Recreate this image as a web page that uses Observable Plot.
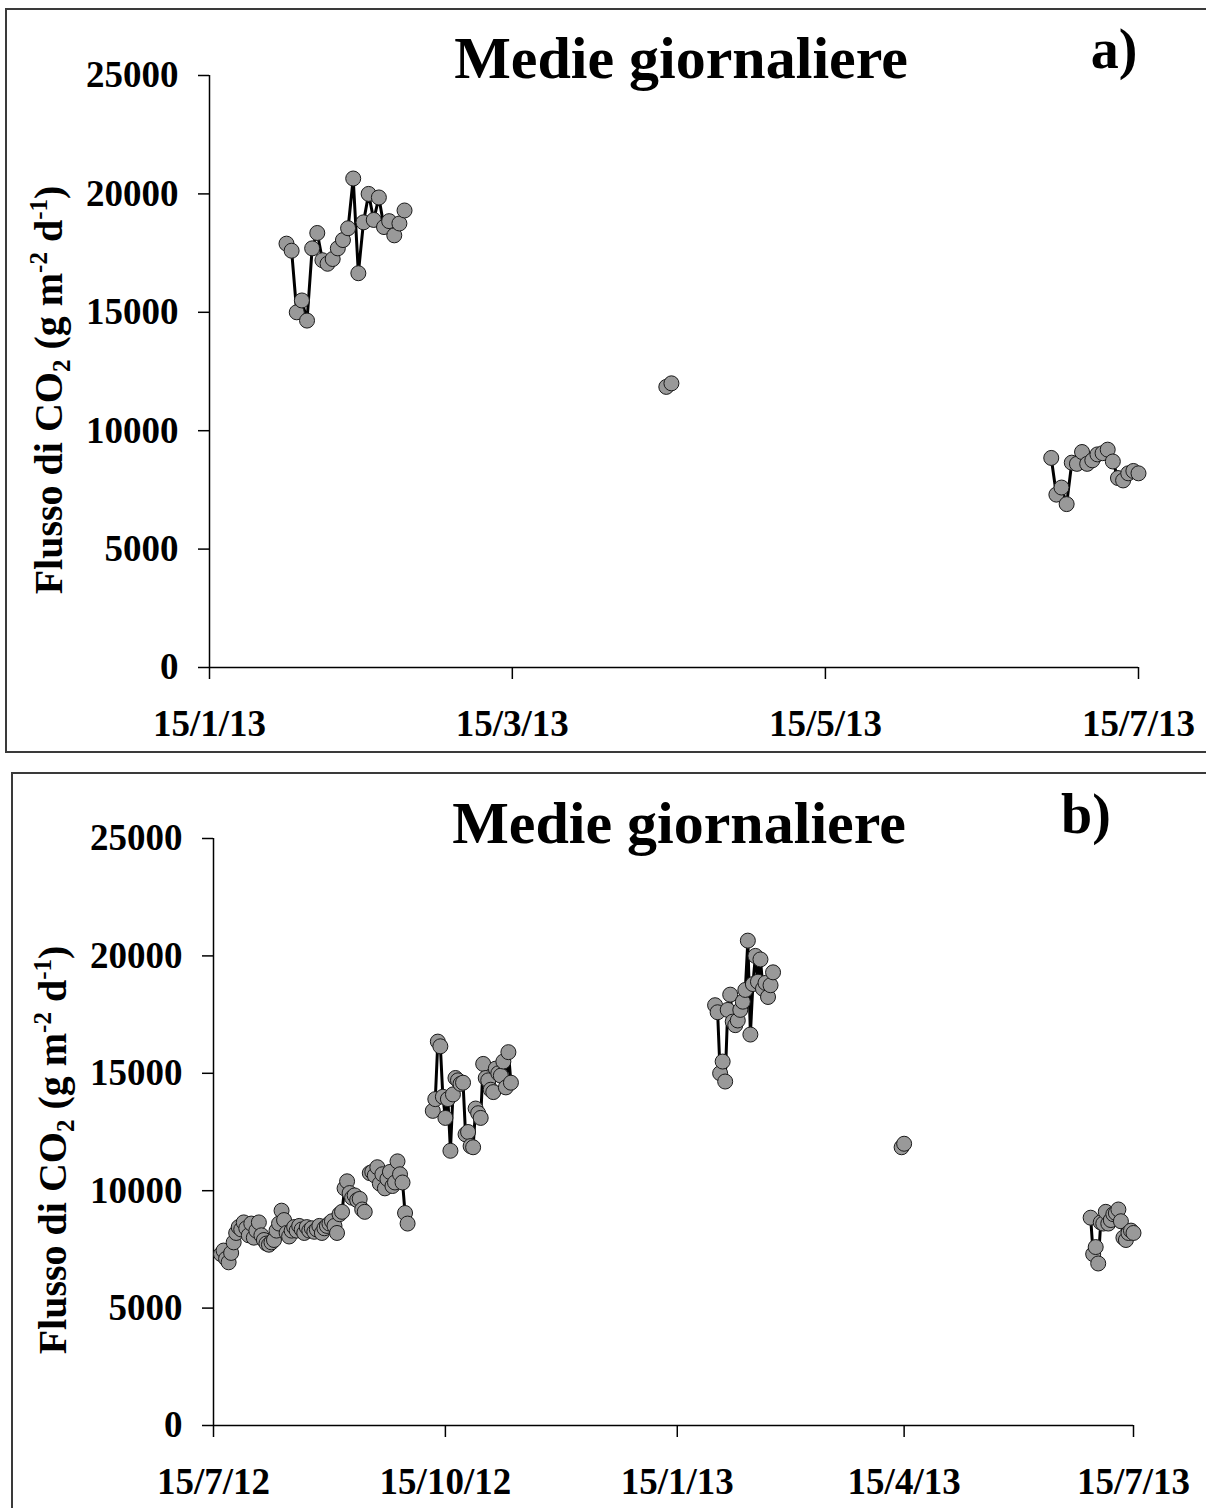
<!DOCTYPE html>
<html><head><meta charset="utf-8">
<script src="https://cdn.jsdelivr.net/npm/d3@7"></script>
<script src="https://cdn.jsdelivr.net/npm/@observablehq/plot@0.6"></script>
<style>
body{margin:0;background:#fff;width:1206px;height:1508px;position:relative;overflow:hidden;font-family:"Liberation Serif","Times New Roman",serif;}
.panel{position:absolute;left:0;}
.frame{position:absolute;border:2px solid #3a3a3a;box-sizing:border-box;pointer-events:none;}
</style></head><body>
<div id="pa" class="panel" style="top:0"></div>
<div id="pb" class="panel" style="top:760px"></div>
<div class="frame" style="left:5px;top:8px;width:1220px;height:745px"></div>
<div class="frame" style="left:11px;top:772px;width:1220px;height:760px"></div>
<script>
// ---- data (daily means, g m-2 d-1) ----
const julSepStart = "2012-07-18";
const julSepValues = [7300,7450,7100,6950,7350,7800,8200,8450,8350,8650,8400,8100,8600,8000,8300,8650,8100,7900,7750,7700,7800,7900,8300,8600,9150,8750,8200,8050,8300,8450,8300,8500,8350,8200,8450,8300,8400,8250,8350,8500,8200,8400,8500,8600,8700,8500,8200,9000,9100,10100,10400,9900,9700,9800,9600,9650,9200,9100];
const sepStart = "2012-09-15";
const sepValues = [10750,10800,10650,11000,10300,10700,10100,10500,10800,10200,10350,11250,10700,10350,9050,8600];
const octNovStart = "2012-10-10";
const octNovValues = [13400,13900,16350,16150,14000,13100,13900,11700,14100,14800,14700,14550,14600,12400,12500,11900,11850,13500,13300,13100,15400,14800,14700,14300,14200,15200,15000,14900,15500,14400,15900,14600];
const febStart = "2013-01-30";
const febValues = [17900,17600,15000,15500,14650,17700,18350,17200,17050,17250,17700,18050,18550,20650,16650,18800,20000,18900,19850,18600,18850,18250,18750,19300];
const aprStart = "2013-04-14";
const aprValues = [11850,12000];
const julStart = "2013-06-28";
const julValues = [8850,7300,7600,6900,8650,8600,9100,8600,8750,9000,9050,9200,8700,8000,7900,8200,8300,8200];

const yTicks = [0,5000,10000,15000,20000,25000];
const ticksA = ["2013-01-15","2013-03-15","2013-05-15","2013-07-15"];
const ticksB = ["2012-07-15","2012-10-15","2013-01-15","2013-04-15","2013-07-15"];
const domainA = ["2013-01-15","2013-07-15"];
const domainB = ["2012-07-15","2013-07-15"];
const titleText = "Medie giornaliere";

// ---- build rows ----
const runs = [
  [julSepStart, julSepValues], [sepStart, sepValues], [octNovStart, octNovValues],
  [febStart, febValues], [aprStart, aprValues], [julStart, julValues]
];
const rows = [];
runs.forEach(([s, vals], k) => {
  const d0 = new Date(s + "T00:00:00Z");
  vals.forEach((v, i) => rows.push({date: d3.utcDay.offset(d0, i), value: v, run: k}));
});
const toDate = s => new Date(s + "T00:00:00Z");
const fmt = d => `${d.getUTCDate()}/${d.getUTCMonth()+1}/${String(d.getUTCFullYear()).slice(2)}`;
const FONT = "'Liberation Serif', 'Times New Roman', serif";

function panel(el, o) {
  const dom = o.domain.map(toDate);
  const data = rows.filter(r => r.date >= dom[0] && r.date <= dom[1]);
  const svg = Plot.plot({
    width: 1206, height: o.height,
    marginLeft: o.ml, marginRight: o.mr, marginTop: o.mt, marginBottom: o.mb,
    style: {fontFamily: FONT, fontWeight: "bold", fontSize: "37px", color: "#000", background: "transparent", overflow: "visible"},
    x: {type: "utc", domain: dom},
    y: {domain: [0, 25000]},
    marks: [
      Plot.axisY({ticks: yTicks, tickSize: 11, tickPadding: 20, tickFormat: d => String(d), label: null, strokeWidth: 1.5}),
      Plot.axisX({ticks: o.ticks.map(toDate), tickSize: 12, tickPadding: 30, tickFormat: fmt, label: null, strokeWidth: 1.5}),
      Plot.ruleX([dom[0]], {stroke: "#000", strokeWidth: 1.5}),
      Plot.ruleY([0], {stroke: "#000", strokeWidth: 1.5}),
      Plot.line(data, {x: "date", y: "value", z: "run", stroke: "#000", strokeWidth: 3}),
      Plot.dot(data, {x: "date", y: "value", r: 7.5, fill: "#999999", stroke: "#1a1a1a", strokeWidth: 1})
    ]
  });
  const s = d3.select(svg);
  s.append("text").attr("x", o.tx).attr("y", o.ty).attr("text-anchor", "middle")
    .style("font-family", FONT).style("font-weight", "bold").style("font-size", "60px").text(titleText);
  s.append("text").attr("x", o.lx).attr("y", o.ly).attr("text-anchor", "middle")
    .style("font-family", FONT).style("font-weight", "bold").style("font-size", "56px").text(o.letter);
  const t = s.append("text").attr("transform", `translate(${o.yx},${o.yy}) rotate(-90)`).attr("text-anchor", "middle")
    .style("font-family", FONT).style("font-weight", "bold").style("font-size", "40px");
  t.append("tspan").text("Flusso di CO");
  t.append("tspan").attr("dy", 8).style("font-size", "25px").text("2");
  t.append("tspan").attr("dy", -8).text(" (g m");
  t.append("tspan").attr("dy", -15).style("font-size", "25px").text("-2");
  t.append("tspan").attr("dy", 15).text(" d");
  t.append("tspan").attr("dy", -15).style("font-size", "25px").text("-1");
  t.append("tspan").attr("dy", 15).text(")");
  document.getElementById(el).appendChild(svg);
}

panel("pa", {height: 752, ml: 209, mr: 68, mt: 75, mb: 85, domain: domainA, ticks: ticksA,
  tx: 681, ty: 78, lx: 1114, ly: 68, letter: "a)", yx: 62, yy: 390});
panel("pb", {height: 748, ml: 213, mr: 73, mt: 78, mb: 83, domain: domainB, ticks: ticksB,
  tx: 679, ty: 83, lx: 1086, ly: 73, letter: "b)", yx: 66, yy: 390});
</script>
</body></html>
